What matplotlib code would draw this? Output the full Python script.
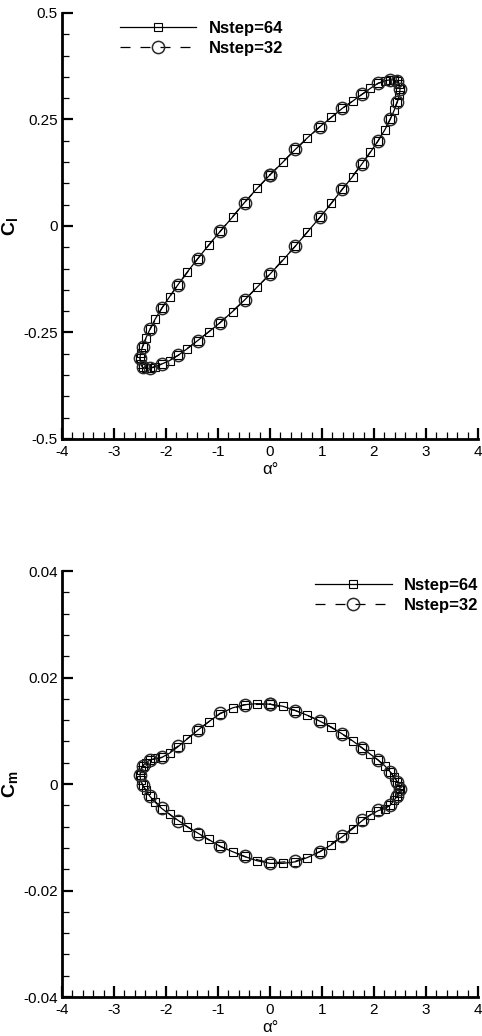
import matplotlib
matplotlib.use("Agg")
import matplotlib.pyplot as plt
from matplotlib.ticker import MultipleLocator

plt.rcParams["font.family"] = ["Liberation Sans", "DejaVu Sans"]
plt.rcParams["axes.unicode_minus"] = False
plt.rcParams["mathtext.fontset"] = "custom"
plt.rcParams["mathtext.rm"] = "Liberation Sans"
plt.rcParams["mathtext.bf"] = "Liberation Sans:bold"

# ---- Nstep = 64 (one pitching cycle) ----
alpha_64 = [0.00, 0.25, 0.49, 0.72, 0.96, 1.18, 1.39, 1.59, 1.77, 1.93, 2.08, 2.21, 2.31, 2.39, 2.45, 2.49,
            2.50, 2.49, 2.45, 2.39, 2.31, 2.21, 2.08, 1.93, 1.77, 1.59, 1.39, 1.18, 0.96, 0.72, 0.49, 0.25,
            0.00, -0.25, -0.49, -0.72, -0.96, -1.18, -1.39, -1.59, -1.77, -1.93, -2.08, -2.21, -2.31, -2.39, -2.45, -2.49,
            -2.50, -2.49, -2.45, -2.39, -2.31, -2.21, -2.08, -1.93, -1.77, -1.59, -1.39, -1.18, -0.96, -0.72, -0.49, -0.25]
cl_64 = [0.120, 0.150, 0.180, 0.207, 0.233, 0.255, 0.276, 0.293, 0.309, 0.323, 0.335, 0.341, 0.343, 0.343, 0.340, 0.333,
         0.321, 0.308, 0.292, 0.272, 0.250, 0.226, 0.200, 0.173, 0.146, 0.116, 0.086, 0.053, 0.020, -0.014, -0.047, -0.080,
         -0.113, -0.144, -0.174, -0.201, -0.227, -0.249, -0.269, -0.288, -0.304, -0.316, -0.324, -0.331, -0.334, -0.334, -0.332, -0.323,
         -0.311, -0.298, -0.283, -0.264, -0.243, -0.219, -0.193, -0.166, -0.138, -0.108, -0.077, -0.045, -0.013, 0.021, 0.055, 0.088]
cm_64 = [0.0150, 0.0146, 0.0138, 0.0129, 0.0118, 0.0107, 0.0094, 0.0081, 0.0068, 0.0056, 0.0045, 0.0034, 0.0023, 0.0013, 0.0004, -0.0003,
         -0.0010, -0.0016, -0.0022, -0.0030, -0.0040, -0.0046, -0.0050, -0.0058, -0.0069, -0.0084, -0.0099, -0.0114, -0.0127, -0.0138, -0.0146, -0.0149,
         -0.0149, -0.0144, -0.0136, -0.0127, -0.0117, -0.0104, -0.0092, -0.0080, -0.0068, -0.0057, -0.0046, -0.0034, -0.0023, -0.0012, -0.0002, 0.0008,
         0.0017, 0.0026, 0.0034, 0.0040, 0.0045, 0.0048, 0.0050, 0.0058, 0.0070, 0.0085, 0.0101, 0.0117, 0.0132, 0.0143, 0.0149, 0.0151]

# ---- Nstep = 32 ----
alpha_32 = [0.00, 0.49, 0.96, 1.39, 1.77, 2.08, 2.31, 2.45, 2.50, 2.45, 2.31, 2.08, 1.77, 1.39, 0.96, 0.49,
            0.00, -0.49, -0.96, -1.39, -1.77, -2.08, -2.31, -2.45, -2.50, -2.45, -2.31, -2.08, -1.77, -1.39, -0.96, -0.49]
cl_32 = [0.120, 0.180, 0.233, 0.276, 0.309, 0.335, 0.343, 0.340, 0.321, 0.292, 0.250, 0.200, 0.146, 0.086, 0.020, -0.047,
         -0.113, -0.174, -0.227, -0.269, -0.304, -0.324, -0.334, -0.332, -0.311, -0.283, -0.243, -0.193, -0.138, -0.077, -0.013, 0.055]
cm_32 = [0.0150, 0.0138, 0.0119, 0.0094, 0.0068, 0.0045, 0.0023, 0.0004, -0.0010, -0.0022, -0.0040, -0.0048, -0.0068, -0.0098, -0.0127, -0.0145,
         -0.0148, -0.0136, -0.0117, -0.0093, -0.0069, -0.0045, -0.0023, -0.0002, 0.0017, 0.0034, 0.0045, 0.0050, 0.0071, 0.0101, 0.0133, 0.0149]

series_labels = ["Nstep=64", "Nstep=32"]
x_ticks = [-4, -3, -2, -1, 0, 1, 2, 3, 4]
x_ticklabels = ["-4", "-3", "-2", "-1", "0", "1", "2", "3", "4"]
cl_ticks = [-0.5, -0.25, 0, 0.25, 0.5]
cl_ticklabels = ["-0.5", "-0.25", "0", "0.25", "0.5"]
cm_ticks = [-0.04, -0.02, 0, 0.02, 0.04]
cm_ticklabels = ["-0.04", "-0.02", "0", "0.02", "0.04"]


def closed(seq):
    return list(seq) + [seq[0]]


def style_axes(ax, yticks, yticklabels, yminor, ylabel):
    ax.set_xlim(-4, 4)
    ax.set_ylim(yticks[0], yticks[-1])
    ax.set_xticks(x_ticks, x_ticklabels)
    ax.set_yticks(yticks, yticklabels)
    ax.xaxis.set_minor_locator(MultipleLocator(0.2))
    ax.yaxis.set_minor_locator(MultipleLocator(yminor))
    for s in ("top", "right"):
        ax.spines[s].set_visible(False)
    for s in ("left", "bottom"):
        ax.spines[s].set_linewidth(2.0)
    ax.tick_params(which="major", direction="in", length=7.7, width=1.6, labelsize=11, pad=3)
    ax.tick_params(axis="x", which="major", pad=4.5)
    ax.tick_params(which="minor", direction="in", length=4.8, width=0.9)
    ax.set_xlabel("α°", fontsize=12, labelpad=2)
    ax.set_ylabel(ylabel, fontsize=14)
    ax.yaxis.set_label_coords(-0.102, 0.5)


def draw(ax, y64, y32):
    ax.plot(closed(alpha_64), closed(y64), "-", color="black", lw=0.9,
            marker="s", ms=6.3, mfc="none", mec="black", mew=0.8, label=series_labels[0])
    ax.plot(closed(alpha_32), closed(y32), color="black", lw=0.9, ls=(0, (8, 8)),
            marker="o", ms=8.8, mfc="none", mec="#2a2a2a", mew=1.1, label=series_labels[1])


fig = plt.figure(figsize=(4.82, 10.36), dpi=100)

legend_kw = dict(loc="center left", frameon=False, numpoints=1, handlelength=4.6,
                 handletextpad=0.75, labelspacing=0.3, borderpad=0, borderaxespad=0,
                 prop={"weight": "bold", "size": 12})

ax1 = fig.add_axes([0.1286, 0.5763, 0.8631, 0.4112])
draw(ax1, cl_64, cl_32)
style_axes(ax1, cl_ticks, cl_ticklabels, 0.05, r"$\mathbf{C_l}$")
ax1.legend(bbox_to_anchor=(0.139, 0.94), **legend_kw)

ax2 = fig.add_axes([0.1286, 0.0376, 0.8631, 0.4112])
draw(ax2, cm_64, cm_32)
style_axes(ax2, cm_ticks, cm_ticklabels, 0.004, r"$\mathbf{C_m}$")
ax2.legend(bbox_to_anchor=(0.608, 0.942), **legend_kw)

fig.savefig("out.png", dpi=100)
